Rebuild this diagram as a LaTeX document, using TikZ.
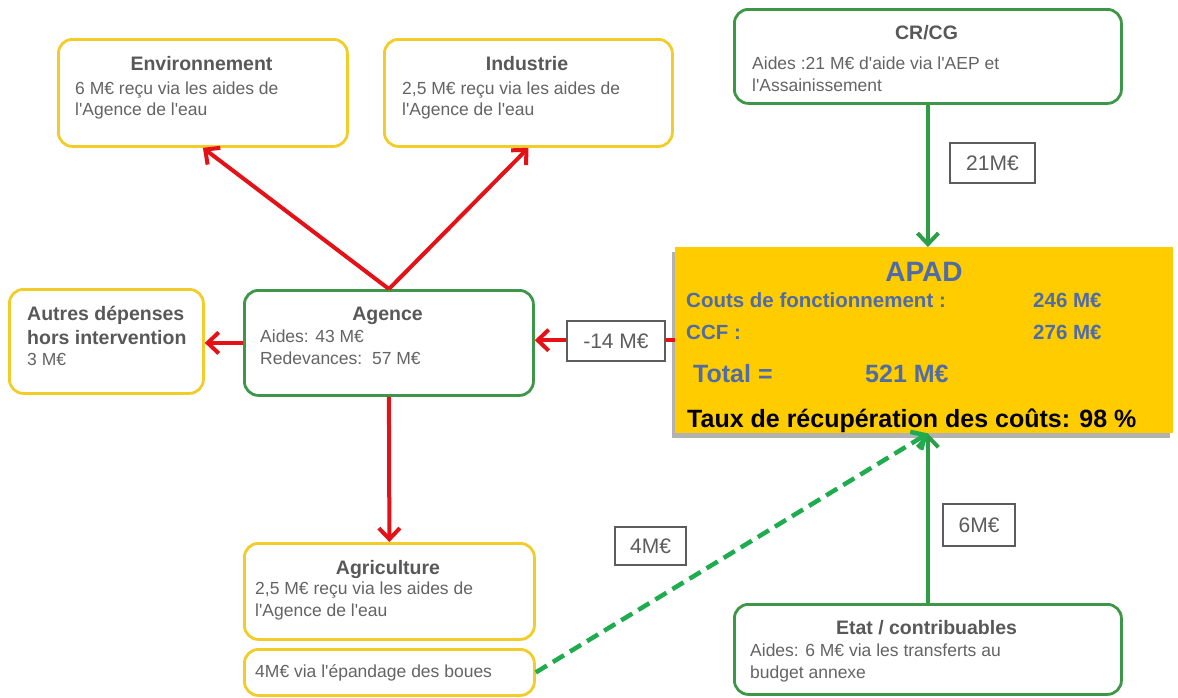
\documentclass[tikz,border=0pt]{standalone}
\usepackage{fontspec}
\setmainfont{Liberation Sans}
\usetikzlibrary{arrows.meta,shadows}

\definecolor{boxyellow}{RGB}{242,204,40}
\definecolor{boxgreen}{RGB}{62,150,72}
\definecolor{arrred}{RGB}{228,18,22}
\definecolor{arrgreen}{RGB}{44,158,72}
\definecolor{dashgreen}{RGB}{30,172,78}
\definecolor{apadfill}{RGB}{255,204,0}
\definecolor{apadblue}{RGB}{80,108,168}
\definecolor{titlegray}{RGB}{88,88,88}
\definecolor{bodygray}{RGB}{100,100,100}
\definecolor{lblgray}{RGB}{92,92,92}

\newcommand\ap{\textquotesingle}

\tikzset{
  ybox/.style={draw=boxyellow, line width=2.8pt, rounded corners=14pt, fill=white,
               anchor=north west, inner sep=0pt},
  gbox/.style={draw=boxgreen, line width=2.8pt, rounded corners=14pt, fill=white,
               anchor=north west, inner sep=0pt},
  ttl/.style={font=\fontsize{19.5}{22}\selectfont\bfseries, text=titlegray,
              inner sep=0pt, anchor=base},
  ttlw/.style={ttl, anchor=base west},
  body/.style={font=\fontsize{17.5}{21}\selectfont, text=bodygray,
               inner sep=0pt, anchor=base west},
  apadtxt/.style={font=\fontsize{20.5}{24}\selectfont\bfseries, text=apadblue,
                  inner sep=0pt, anchor=base west},
  lbl/.style={draw=lblgray, line width=2.3pt, fill=white, text=lblgray,
              font=\fontsize{21}{24}\selectfont, inner sep=0pt},
  redarr/.style={draw=arrred, line width=4pt,
                 -{Straight Barb[length=11pt,width=21pt]}},
  greenarr/.style={draw=arrgreen, line width=4pt,
                   -{Straight Barb[length=11pt,width=21pt]}},
  dasharr/.style={draw=dashgreen, line width=4.5pt, dash pattern=on 13pt off 7pt,
                  -{Straight Barb[length=11pt,width=21pt]}},
}

\begin{document}
\begin{tikzpicture}[x=1pt,y=-1pt]
\useasboundingbox (0,0) rectangle (1178,697);

% ---------- receivers of the Agence ----------
\node[ybox, minimum width=289pt, minimum height=107pt] (env) at (57,38) {};
\node[ttl]  (env-t) at (201.5,70) {Environnement};
\node[body] (env-a) at (75,94)  {6 M€ reçu via les aides de};
\node[body] (env-b) at (75,115) {l\ap Agence de l\ap eau};

\node[ybox, minimum width=288pt, minimum height=107pt] (ind) at (383,38) {};
\node[ttl]  (ind-t) at (527,70) {Industrie};
\node[body] (ind-a) at (402,94)  {2,5 M€ reçu via les aides de};
\node[body] (ind-b) at (402,115) {l\ap Agence de l\ap eau};

\node[ybox, minimum width=194pt, minimum height=104pt] (aut) at (8,288) {};
\node[ttlw] (aut-t1) at (27,320) {Autres dépenses};
\node[ttlw] (aut-t2) at (27,344) {hors intervention};
\node[body] (aut-a)  at (27,365) {3 M€};

\node[ybox, minimum width=290pt, minimum height=96pt] (agr) at (243,542) {};
\node[ttl]  (agr-t) at (388,574) {Agriculture};
\node[body] (agr-a) at (255,594) {2,5 M€ reçu via les aides de};
\node[body] (agr-b) at (255,616) {l\ap Agence de l\ap eau};

\node[ybox, minimum width=290pt, minimum height=46pt] (epa) at (243,648) {};
\node[body] (epa-a) at (255,677) {4M€ via l\ap épandage des boues};

% ---------- Agence ----------
\node[gbox, minimum width=289pt, minimum height=105pt] (age) at (243,289) {};
\node[ttl]  (age-t) at (387.5,320) {Agence};
\node[body] (age-a) at (260,342) {Aides: 43 M€};
\node[body] (age-b) at (260,364) {Redevances:\ \ 57 M€};

% ---------- funders ----------
\node[gbox, minimum width=387pt, minimum height=94pt] (crcg) at (733,8) {};
\node[ttl]  (crcg-t) at (926.5,39) {CR/CG};
\node[body] (crcg-a) at (752,69) {Aides :21 M€ d\ap aide via l\ap AEP et};
\node[body] (crcg-b) at (752,91) {l\ap Assainissement};

\node[gbox, minimum width=387pt, minimum height=90pt] (etat) at (733,603) {};
\node[ttl]  (etat-t) at (926.5,634) {Etat / contribuables};
\node[body] (etat-a) at (750,656) {Aides: 6 M€ via les transferts au};
\node[body] (etat-b) at (750,678) {budget annexe};

% ---------- APAD ----------
\node[fill=apadfill, minimum width=498pt, minimum height=186pt, anchor=north west,
      inner sep=0pt,
      drop shadow={shadow xshift=-3pt, shadow yshift=-5pt, fill=black, opacity=0.3}]
      (apad) at (675,247) {};
\node[font=\fontsize{28}{32}\selectfont\bfseries, text=apadblue, inner sep=0pt,
      anchor=base] (apad-t) at (924,281) {APAD};
\node[apadtxt] (apad-c1) at (686,307)  {Couts de fonctionnement :};
\node[apadtxt] (apad-v1) at (1033,307) {246 M€};
\node[apadtxt] (apad-c2) at (686,339)  {CCF :};
\node[apadtxt] (apad-v2) at (1033,339) {276 M€};
\node[apadtxt, font=\fontsize{25}{28}\selectfont\bfseries] (apad-tot) at (693,382) {Total =};
\node[apadtxt, font=\fontsize{25}{28}\selectfont\bfseries] (apad-sum) at (865,382) {521 M€};
\node[apadtxt, font=\fontsize{25}{28}\selectfont\bfseries, text=black]
      (apad-taux) at (687,427) {Taux de récupération des coûts: 98 \%};

% ---------- connectors ----------
\draw[redarr] (age.north) -- (env.south);
\draw[redarr] (age.north) -- (ind.south);
\draw[redarr] (age.west) -- (age.west -| aut.east);
\draw[redarr] (age.south) -- (agr.north);
\draw[redarr] (apad.west) -- (apad.west -| age.east);

\coordinate (apad-in-top) at (crcg.south |- apad.north);
\coordinate (apad-in-bot) at (etat.north |- apad.south);
\draw[greenarr] (crcg.south) -- (apad-in-top);
\draw[greenarr] (etat.north) -- (apad-in-bot);
\draw[dasharr] (epa.east) -- (apad-in-bot);

% ---------- amount labels ----------
\node[lbl, minimum width=98pt, minimum height=40pt] (m14) at (616,341) {-14 M€};
\node[lbl, minimum width=85pt, minimum height=40pt] (m21) at (992.5,163) {21M€};
\node[lbl, minimum width=72pt, minimum height=42pt] (m6)  at (979,525) {6M€};
\node[lbl, minimum width=71pt, minimum height=38pt] (m4)  at (650.5,546) {4M€};
\end{tikzpicture}
\end{document}
